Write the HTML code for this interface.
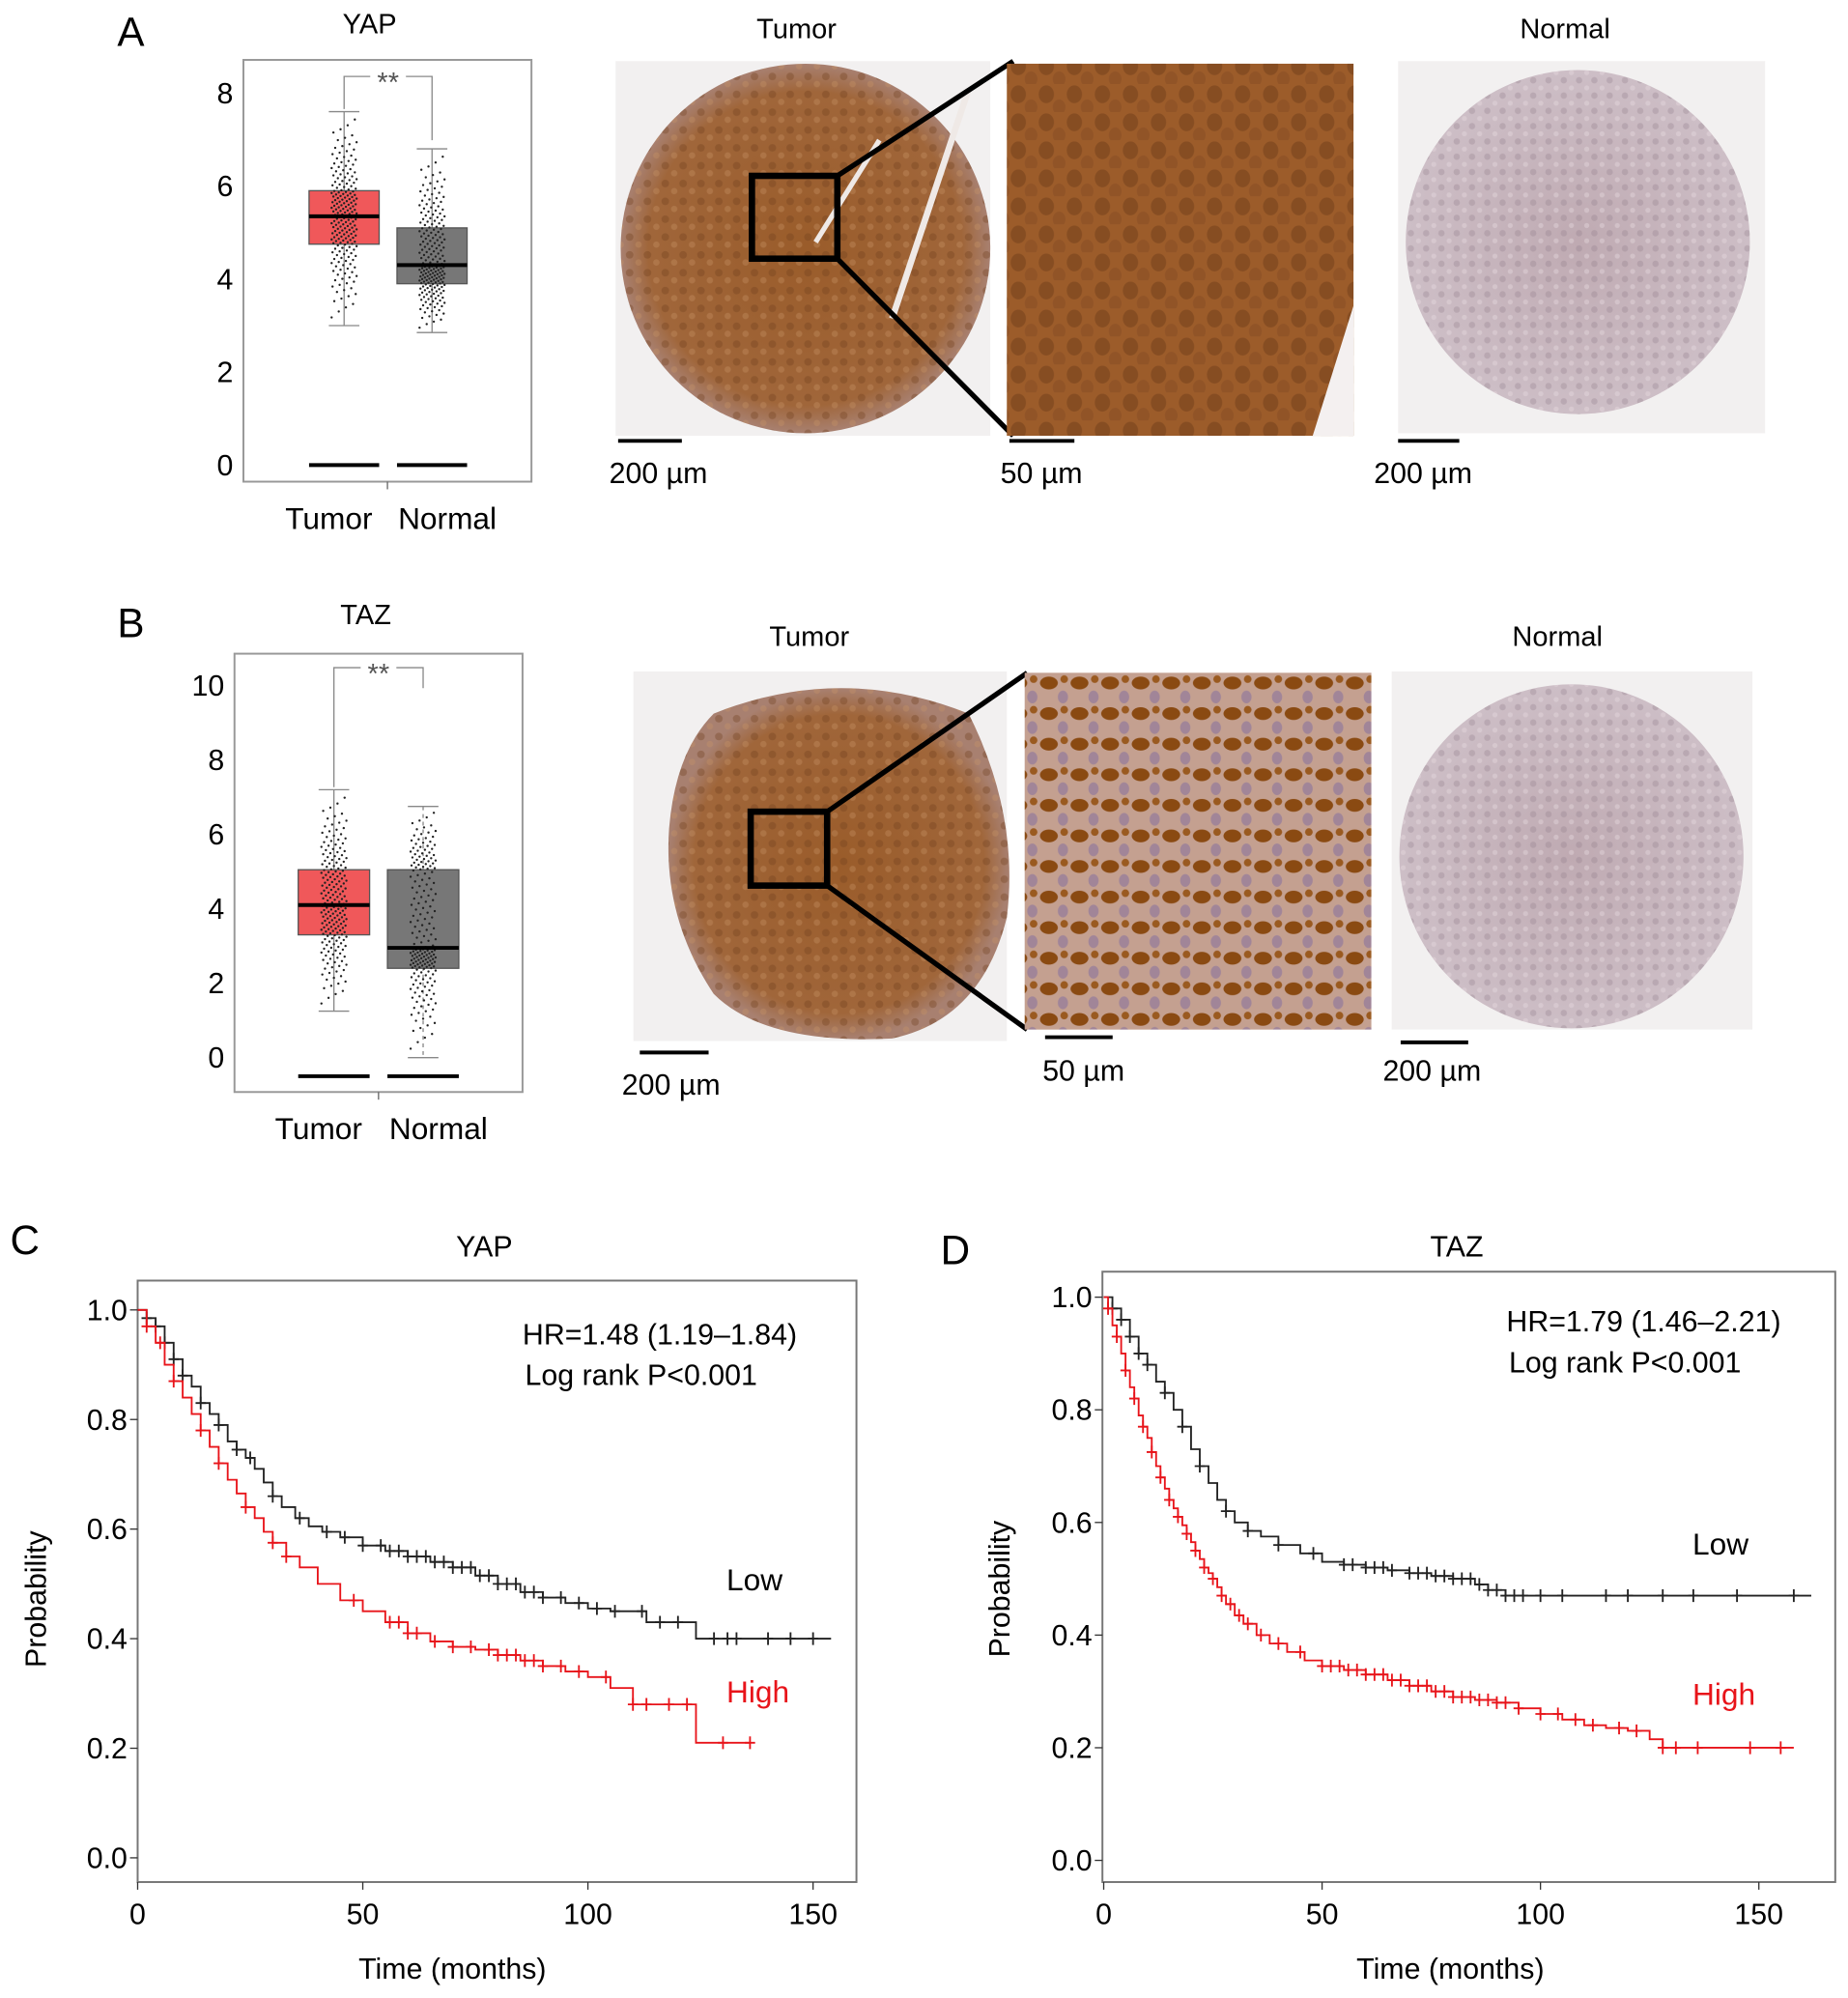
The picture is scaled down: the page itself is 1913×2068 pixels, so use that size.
<!DOCTYPE html>
<html><head><meta charset="utf-8"><style>
html,body{margin:0;padding:0;background:#fff;}
svg{display:block;font-family:"Liberation Sans",Arial,sans-serif;}
</style></head><body>
<svg id="fig" width="1913" height="2068" viewBox="0 0 1450 1568" preserveAspectRatio="none" xmlns="http://www.w3.org/2000/svg">
<defs>
<radialGradient id="brown" cx="50%" cy="50%" r="50%"><stop offset="0" stop-color="#9a5c2a"/><stop offset="0.85" stop-color="#a0663a"/><stop offset="1" stop-color="#a88070"/></radialGradient>
<radialGradient id="lilac" cx="50%" cy="50%" r="50%"><stop offset="0" stop-color="#bfaab2"/><stop offset="1" stop-color="#cdbec6"/></radialGradient>
<pattern id="tex" width="14" height="14" patternUnits="userSpaceOnUse"><circle cx="4" cy="4" r="3" fill="#6e3e1c" opacity="0.35"/><circle cx="11" cy="10" r="2.5" fill="#c89466" opacity="0.35"/></pattern>
<pattern id="tex2" width="12" height="12" patternUnits="userSpaceOnUse"><circle cx="3" cy="3" r="2.5" fill="#8f7a88" opacity="0.3"/><circle cx="9" cy="9" r="2" fill="#e8dde2" opacity="0.4"/></pattern>
<pattern id="nuc" width="22" height="22" patternUnits="userSpaceOnUse"><ellipse cx="7" cy="8" rx="6" ry="7" fill="#6a3a18" opacity="0.45"/><ellipse cx="17" cy="18" rx="5" ry="6" fill="#7a4522" opacity="0.35"/></pattern>
<pattern id="nuc2" width="24" height="24" patternUnits="userSpaceOnUse"><rect width="24" height="24" fill="#c4a090"/><ellipse cx="7" cy="8" rx="7" ry="5" fill="#8a4a12"/><ellipse cx="18" cy="19" rx="4" ry="5" fill="#7d6aa0" opacity="0.5"/><ellipse cx="19" cy="5" rx="3" ry="3" fill="#9a5a20"/></pattern>
</defs>

<!-- ===== Panel A ===== -->
<text x="92" y="36" font-size="32">A</text>
<text x="290" y="26" font-size="22" text-anchor="middle">YAP</text>
<g id="boxA"></g>

<g>
<rect x="483" y="48" width="294" height="294" fill="#f2f0f0"/>
<circle cx="632" cy="195" r="145" fill="url(#brown)"/><circle cx="632" cy="195" r="145" fill="url(#tex)"/>
<path d="M760 70 L700 250" stroke="#efe9e6" stroke-width="5" fill="none"/>
<path d="M690 110 L640 190" stroke="#efe9e6" stroke-width="4" fill="none"/>
<rect x="590" y="138" width="67" height="65" fill="none" stroke="#000" stroke-width="5"/>
<line x1="657" y1="138" x2="795" y2="48" stroke="#000" stroke-width="4"/>
<line x1="657" y1="203" x2="795" y2="342" stroke="#000" stroke-width="4"/>
<rect x="790" y="50" width="272" height="292" fill="#9c5c2a"/><rect x="790" y="50" width="272" height="292" fill="url(#nuc)"/>
<path d="M1062 240 L1030 342 L1062 342 Z" fill="#f4f0f0"/>
<rect x="1097" y="48" width="288" height="292" fill="#f2f0f0"/>
<circle cx="1238" cy="190" r="135" fill="url(#lilac)"/><circle cx="1238" cy="190" r="135" fill="url(#tex2)"/>
</g>
<text x="625" y="30" font-size="22" text-anchor="middle">Tumor</text>
<text x="1228" y="30" font-size="22" text-anchor="middle">Normal</text>
<g stroke="#000" stroke-width="3"><line x1="485" y1="346" x2="535" y2="346"/><line x1="792" y1="346" x2="843" y2="346"/><line x1="1097" y1="346" x2="1145" y2="346"/></g>
<g font-size="23"><text x="478" y="379">200 µm</text><text x="785" y="379">50 µm</text><text x="1078" y="379">200 µm</text></g>

<!-- ===== Panel B ===== -->
<text x="92" y="500" font-size="32">B</text>
<text x="287" y="490" font-size="22" text-anchor="middle">TAZ</text>
<g id="boxB"></g>

<g>
<rect x="497" y="527" width="293" height="290" fill="#f2f0f0"/>
<path d="M560 560 Q660 520 760 560 Q800 640 790 720 Q770 800 700 815 Q600 820 560 780 Q520 720 525 650 Q530 590 560 560 Z" fill="url(#brown)"/>
<path d="M560 560 Q660 520 760 560 Q800 640 790 720 Q770 800 700 815 Q600 820 560 780 Q520 720 525 650 Q530 590 560 560 Z" fill="url(#tex)"/>
<rect x="589" y="637" width="60" height="58" fill="none" stroke="#000" stroke-width="5"/>
<line x1="649" y1="637" x2="806" y2="528" stroke="#000" stroke-width="4"/>
<line x1="649" y1="695" x2="806" y2="808" stroke="#000" stroke-width="4"/>
<rect x="804" y="528" width="272" height="280" fill="url(#nuc2)"/>
<rect x="1092" y="527" width="283" height="281" fill="#f2f0f0"/>
<circle cx="1233" cy="672" r="135" fill="url(#lilac)"/><circle cx="1233" cy="672" r="135" fill="url(#tex2)"/>
</g>
<text x="635" y="507" font-size="22" text-anchor="middle">Tumor</text>
<text x="1222" y="507" font-size="22" text-anchor="middle">Normal</text>
<g stroke="#000" stroke-width="3"><line x1="502" y1="826" x2="556" y2="826"/><line x1="820" y1="814" x2="873" y2="814"/><line x1="1099" y1="818" x2="1152" y2="818"/></g>
<g font-size="23"><text x="488" y="859">200 µm</text><text x="818" y="848">50 µm</text><text x="1085" y="848">200 µm</text></g>

<!-- ===== Panel C / D ===== -->
<text x="8" y="984" font-size="32">C</text>
<text x="738" y="992" font-size="32">D</text>
<g id="kmC"></g>
<g id="kmD"></g>
</svg>

<script>
// ---- Box plot data ----
const boxGroups = ["Tumor", "Normal"];
const yapQ1 = [4.75, 3.9], yapMed = [5.35, 4.3], yapQ3 = [5.9, 5.1], yapLo = [3.0, 2.85], yapHi = [7.6, 6.8];
const yapTicks = [0, 2, 4, 6, 8];
const tazQ1 = [3.3, 2.4], tazMed = [4.1, 2.95], tazQ3 = [5.05, 5.05], tazLo = [1.25, 0.0], tazHi = [7.2, 6.75];
const tazTicks = [0, 2, 4, 6, 8, 10];

// ---- KM data (time in months, survival probability) ----
const yapLowT = [0, 2, 4, 6, 8, 10, 12, 14, 16, 18, 20, 22, 24, 26, 28, 30, 32, 35, 38, 41, 45, 50, 55, 60, 65, 70, 75, 80, 85, 90, 95, 100, 105, 113, 124, 154];
const yapLowS = [1.0, 0.985, 0.97, 0.94, 0.91, 0.88, 0.86, 0.83, 0.81, 0.79, 0.76, 0.745, 0.73, 0.71, 0.685, 0.66, 0.64, 0.62, 0.605, 0.595, 0.585, 0.57, 0.56, 0.55, 0.54, 0.53, 0.515, 0.5, 0.485, 0.475, 0.465, 0.455, 0.45, 0.43, 0.40, 0.40];
const yapHighT = [0, 2, 4, 6, 8, 10, 12, 14, 16, 18, 20, 22, 24, 26, 28, 30, 33, 36, 40, 45, 50, 55, 60, 65, 70, 75, 80, 85, 90, 95, 100, 105, 110, 124, 136];
const yapHighS = [1.0, 0.97, 0.94, 0.9, 0.87, 0.84, 0.81, 0.78, 0.75, 0.72, 0.69, 0.665, 0.64, 0.62, 0.595, 0.575, 0.55, 0.53, 0.5, 0.47, 0.45, 0.43, 0.41, 0.395, 0.385, 0.38, 0.37, 0.36, 0.35, 0.34, 0.33, 0.31, 0.28, 0.21, 0.21];
const yapLowCens = [2, 4, 6, 8, 10, 14, 18, 22, 25, 30, 36, 42, 46, 50, 54, 56, 58, 60, 62, 64, 66, 68, 70, 72, 74, 76, 78, 80, 82, 84, 86, 88, 90, 94, 98, 102, 106, 112, 116, 120, 128, 131, 133, 140, 145, 150];
const yapHighCens = [2, 5, 8, 14, 18, 24, 30, 33, 48, 56, 58, 60, 62, 66, 70, 74, 78, 80, 82, 84, 86, 88, 90, 94, 98, 104, 110, 113, 118, 122, 130, 136];
const tazLowT = [0, 2, 4, 6, 8, 10, 12, 14, 16, 18, 20, 22, 24, 26, 28, 30, 33, 36, 40, 45, 50, 55, 60, 65, 70, 75, 80, 85, 88, 92, 162];
const tazLowS = [1.0, 0.98, 0.96, 0.93, 0.9, 0.88, 0.85, 0.83, 0.8, 0.77, 0.73, 0.7, 0.67, 0.64, 0.62, 0.6, 0.585, 0.575, 0.56, 0.545, 0.53, 0.525, 0.52, 0.515, 0.51, 0.505, 0.5, 0.49, 0.48, 0.47, 0.47];
const tazHighT = [0, 1, 2, 3, 4, 5, 6, 7, 8, 9, 10, 11, 12, 13, 14, 15, 16, 17, 18, 19, 20, 21, 22, 23, 24, 25, 26, 27, 28, 30, 32, 35, 38, 42, 46, 50, 55, 60, 65, 70, 75, 80, 85, 90, 95, 100, 105, 110, 115, 120, 125, 128, 158];
const tazHighS = [1.0, 0.98, 0.95, 0.93, 0.9, 0.87, 0.84, 0.82, 0.79, 0.77, 0.75, 0.725, 0.7, 0.68, 0.66, 0.64, 0.625, 0.61, 0.595, 0.58, 0.565, 0.55, 0.535, 0.52, 0.51, 0.5, 0.485, 0.47, 0.455, 0.435, 0.42, 0.4, 0.385, 0.37, 0.355, 0.345, 0.338, 0.33, 0.32, 0.31, 0.3, 0.29, 0.285, 0.28, 0.27, 0.26, 0.25, 0.24, 0.235, 0.23, 0.215, 0.20, 0.20];
const tazLowCens = [2, 4, 6, 8, 10, 14, 18, 22, 28, 33, 40, 48, 55, 57, 60, 62, 64, 66, 70, 72, 74, 76, 78, 80, 82, 84, 86, 88, 90, 92, 94, 96, 100, 105, 115, 120, 128, 135, 145, 158];
const tazHighCens = [1, 3, 5, 7, 9, 11, 13, 15, 17, 19, 21, 23, 25, 27, 29, 31, 33, 36, 40, 45, 50, 52, 54, 56, 58, 60, 62, 64, 66, 68, 70, 72, 74, 76, 78, 80, 82, 84, 86, 88, 90, 92, 95, 100, 104, 108, 112, 118, 122, 128, 131, 136, 148, 155];
const kmXTicks = [0, 50, 100, 150];
const kmYTicks = [0.0, 0.2, 0.4, 0.6, 0.8, 1.0];

const NS = "http://www.w3.org/2000/svg";
function mk(parent, tag, attrs, text) {
  const e = document.createElementNS(NS, tag);
  for (const k in attrs) e.setAttribute(k, attrs[k]);
  if (text !== undefined) e.textContent = text;
  parent.appendChild(e);
  return e;
}

function boxplot(gid, frame, yMin, yMax, yTopPx, yBotPx, ticks, q1, med, q3, lo, hi, xs, bw, baseVal, bracket) {
  const g = document.getElementById(gid);
  const y = v => yBotPx - (v - yMin) / (yMax - yMin) * (yBotPx - yTopPx);
  const fr = mk(g, "rect", {x: frame[0], y: frame[1], width: frame[2], height: frame[3], fill: "none", stroke: "#999", "stroke-width": 1.5});
  
  
  ticks.forEach(t => {
    const tx = mk(g, "text", {x: frame[0] - 8, y: y(t) + 8, "font-size": 23, "text-anchor": "end"}, String(t));
    
    
  });
  mk(g, "line", {x1: frame[0] + frame[2] / 2, x2: frame[0] + frame[2] / 2, y1: frame[1] + frame[3], y2: frame[1] + frame[3] + 6, stroke: "#666"});
  const fills = ["#f0585a", "#777777"];
  boxGroups.forEach((name, i) => {
    const cx = xs[i];
    const wl = mk(g, "line", {x1: cx, x2: cx, y1: y(hi[i]), y2: y(lo[i]), stroke: "#888", "stroke-width": 1, "stroke-dasharray": gid === "boxB" && i === 1 ? "3,3" : "none"});
    
    
    [hi[i], lo[i]].forEach(v => mk(g, "line", {x1: cx - 12, x2: cx + 12, y1: y(v), y2: y(v), stroke: "#888"}));
    const b = mk(g, "rect", {x: cx - bw / 2, y: y(q3[i]), width: bw, height: y(q1[i]) - y(q3[i]), fill: fills[i], stroke: "#555", "stroke-width": 1});
    
    
    const n = 200;
    for (let k = 0; k < n; k++) {
      const f = (k + 0.5) / n;
      let v;
      if (f < 0.25) v = lo[i] + (q1[i] - lo[i]) * Math.sqrt(f / 0.25);
      else if (f < 0.5) v = q1[i] + (med[i] - q1[i]) * (f - 0.25) / 0.25;
      else if (f < 0.75) v = med[i] + (q3[i] - med[i]) * (f - 0.5) / 0.25;
      else v = q3[i] + (hi[i] - q3[i]) * (1 - Math.sqrt((1 - f) / 0.25));
      const off = ((k * 37) % 29 - 14) * 0.7;
      mk(g, "circle", {cx: cx + off, cy: y(v), r: 0.9, fill: "#222"});
    }
    const m = mk(g, "line", {x1: cx - bw / 2, x2: cx + bw / 2, y1: y(med[i]), y2: y(med[i]), stroke: "#000", "stroke-width": 3});
    
    
    mk(g, "line", {x1: cx - bw / 2, x2: cx + bw / 2, y1: y(baseVal), y2: y(baseVal), stroke: "#000", "stroke-width": 3});
    const lb = mk(g, "text", {x: cx + (i === 0 ? -12 : 12), y: frame[1] + frame[3] + 37, "font-size": 24, "text-anchor": "middle"}, name);
    
    
  });
  const by = bracket[0];
  const br = mk(g, "path", {d: `M${xs[0]},${y(hi[0]) - 2} V${by} H${xs[1]} V${bracket[1]}`, fill: "none", stroke: "#888"});
  
  
  mk(g, "rect", {x: (xs[0] + xs[1]) / 2 - 14, y: by - 8, width: 28, height: 14, fill: "#fff"});
  const st = mk(g, "text", {x: (xs[0] + xs[1]) / 2, y: by + 12, "font-size": 22, "text-anchor": "middle", fill: "#555"}, "**");
  
  
}

boxplot("boxA", [191, 47, 226, 331], 0, 8, 73, 365, yapTicks, yapQ1, yapMed, yapQ3, yapLo, yapHi, [270, 339], 55, 0, [60, 110]);
boxplot("boxB", [184, 513, 226, 344], 0, 10, 538, 830, tazTicks, tazQ1, tazMed, tazQ3, tazLo, tazHi, [262, 332], 56, -0.5, [524, 540]);

function stepAt(T, S, t) {
  let s = S[0];
  for (let i = 0; i < T.length; i++) if (T[i] <= t) s = S[i];
  return s;
}

function km(gid, cfg) {
  const g = document.getElementById(gid);
  const x = t => cfg.x0 + t * cfg.xs;
  const y = p => cfg.y0 - p * cfg.ys;
  const f = cfg.frame;
  const fr = mk(g, "rect", {x: f[0], y: f[1], width: f[2], height: f[3], fill: "none", stroke: "#777", "stroke-width": 1.5});
  
  
  const ti = mk(g, "text", {x: cfg.title[1], y: cfg.title[2], "font-size": 23, "text-anchor": "middle"}, cfg.title[0]);
  
  
  kmYTicks.forEach(p => {
    mk(g, "line", {x1: f[0] - 6, x2: f[0], y1: y(p), y2: y(p), stroke: "#333"});
    const tx = mk(g, "text", {x: f[0] - 8, y: y(p) + 8, "font-size": 23, "text-anchor": "end"}, p.toFixed(1));
    
    
  });
  kmXTicks.forEach(t => {
    mk(g, "line", {x1: x(t), x2: x(t), y1: f[1] + f[3], y2: f[1] + f[3] + 6, stroke: "#333"});
    const tx = mk(g, "text", {x: x(t), y: f[1] + f[3] + 33, "font-size": 23, "text-anchor": "middle"}, String(t));
    
    
  });
  const xt = mk(g, "text", {x: cfg.xlab[0], y: cfg.xlab[1], "font-size": 23, "text-anchor": "middle"}, "Time (months)");
  
  
  const yt = mk(g, "text", {x: 0, y: 0, "font-size": 23, "text-anchor": "middle", transform: `translate(${cfg.ylab[0]},${cfg.ylab[1]}) rotate(-90)`}, "Probability");
  
  
  const series = [
    {T: cfg.lowT, S: cfg.lowS, C: cfg.lowC, col: "#222", name: "low"},
    {T: cfg.highT, S: cfg.highS, C: cfg.highC, col: "#e8141a", name: "high"}
  ];
  series.forEach(s => {
    let d = `M${x(s.T[0])},${y(s.S[0])}`;
    for (let i = 1; i < s.T.length; i++) d += ` H${x(s.T[i])} V${y(s.S[i])}`;
    const p = mk(g, "path", {d: d, fill: "none", stroke: s.col, "stroke-width": 1.4});
    
    
    s.C.forEach(t => {
      const cy = y(stepAt(s.T, s.S, t));
      const cm = mk(g, "path", {d: `M${x(t) - 4},${cy} H${x(t) + 4} M${x(t)},${cy - 5} V${cy + 5}`, stroke: s.col, "stroke-width": 1.4});
      
      
    });
  });
  const h1 = mk(g, "text", {x: cfg.hr[1], y: cfg.hr[2], "font-size": 23}, cfg.hr[0]);
  
  
  const h2 = mk(g, "text", {x: cfg.hr[1] + 2, y: cfg.hr[2] + 32, "font-size": 23}, "Log rank P<0.001");
  
  
  const l1 = mk(g, "text", {x: cfg.lowLab[0], y: cfg.lowLab[1], "font-size": 24}, "Low");
  
  
  const l2 = mk(g, "text", {x: cfg.highLab[0], y: cfg.highLab[1], "font-size": 24, fill: "#e8141a"}, "High");
  
  
}

km("kmC", {frame: [108, 1005, 564, 472], x0: 108, xs: 3.533, y0: 1458, ys: 430,
  title: ["YAP", 380, 986], xlab: [355, 1553], ylab: [36, 1255],
  lowT: yapLowT, lowS: yapLowS, lowC: yapLowCens, highT: yapHighT, highS: yapHighS, highC: yapHighCens,
  hr: ["HR=1.48 (1.19–1.84)", 410, 1055], lowLab: [570, 1248], highLab: [570, 1336]});
km("kmD", {frame: [865, 998, 575, 479], x0: 866, xs: 3.427, y0: 1460, ys: 442,
  title: ["TAZ", 1143, 986], xlab: [1138, 1553], ylab: [792, 1247],
  lowT: tazLowT, lowS: tazLowS, lowC: tazLowCens, highT: tazHighT, highS: tazHighS, highC: tazHighCens,
  hr: ["HR=1.79 (1.46–2.21)", 1182, 1045], lowLab: [1328, 1220], highLab: [1328, 1338]});
</script>
</body></html>
